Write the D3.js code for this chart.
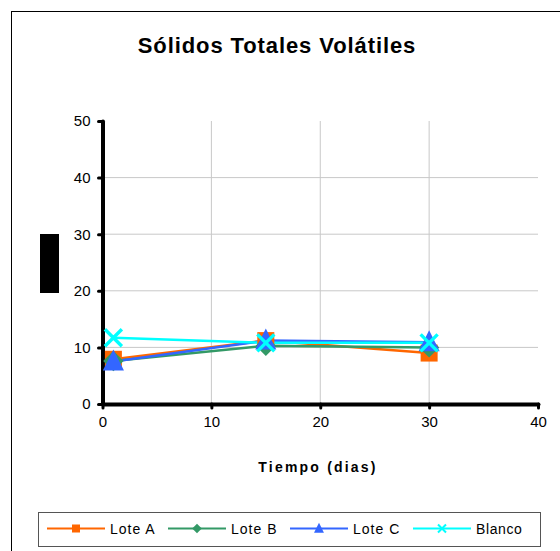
<!DOCTYPE html>
<html>
<head>
<meta charset="utf-8">
<script src="https://cdn.jsdelivr.net/npm/d3@7"></script>
<style>
  body { margin: 0; background: white; }
  svg { display: block; font-family: Arial, "Liberation Sans", sans-serif; }
</style>
</head>
<body>
<svg id="chart"></svg>
<script>
// data
var days = [1, 15, 30]
var loteA = [7.9, 11.2, 9.0]
var loteB = [7.6, 10.3, 10.0]
var loteC = [7.5, 11.2, 10.9]
var blanco = [11.7, 10.8, 10.8]
var seriesNames = ["Lote A", "Lote B", "Lote C", "Blanco"]
var xTicks = [0, 10, 20, 30, 40]
var yTicks = [0, 10, 20, 30, 40, 50]

var width = 560, height = 551

var svg = d3.select("#chart")
    .attr("width", width)
    .attr("height", height)

// outer frame (right / bottom edges fall outside the picture)
svg.append("rect")
    .attr("x", 11.5).attr("y", 11.5)
    .attr("width", 600).attr("height", 600)
    .attr("fill", "white")
    .attr("stroke", "#000")
    .attr("stroke-width", 1)

var xScale = d3.scaleLinear().domain([0, 40]).range([102.5, 538])
var yScale = d3.scaleLinear().domain([0, 50]).range([404, 121])

// title
svg.append("text")
    .attr("x", 277).attr("y", 53)
    .attr("text-anchor", "middle")
    .style("font-size", "22px")
    .style("font-weight", "bold")
    .style("letter-spacing", "0.9px")
    .text("Sólidos Totales Volátiles")

// gridlines
svg.append("g")
    .selectAll("line.gx")
    .data(xTicks.slice(1, -1))
    .join("line")
    .attr("x1", d => xScale(d)).attr("x2", d => xScale(d))
    .attr("y1", yScale(50)).attr("y2", yScale(0))
    .attr("stroke", "#c8c8c8")
    .attr("stroke-width", 1)

svg.append("g")
    .selectAll("line.gy")
    .data(yTicks.slice(1, -1))
    .join("line")
    .attr("x1", xScale(0)).attr("x2", xScale(40))
    .attr("y1", d => yScale(d)).attr("y2", d => yScale(d))
    .attr("stroke", "#c8c8c8")
    .attr("stroke-width", 1)

// axes
var xAxis = svg.append("g")
    .attr("transform", "translate(0," + yScale(0) + ")")
    .call(d3.axisBottom(xScale).tickValues(xTicks).tickSize(4).tickPadding(8).tickSizeOuter(0))
var yAxis = svg.append("g")
    .attr("transform", "translate(" + xScale(0) + ",0)")
    .call(d3.axisLeft(yScale).tickValues(yTicks).tickSize(4).tickPadding(8).tickSizeOuter(0))

;[xAxis, yAxis].forEach(function (ax) {
    ax.select(".domain")
        .attr("stroke", "#000")
        .attr("stroke-width", 4)
        .attr("stroke-linecap", "round")
    ax.selectAll(".tick line")
        .attr("stroke", "#000")
        .attr("stroke-width", 3)
        .attr("stroke-linecap", "round")
    ax.selectAll(".tick text")
        .style("font-family", "Arial, 'Liberation Sans', sans-serif")
        .style("font-size", "15px")
        .attr("fill", "#000")
})

// x axis title
svg.append("text")
    .attr("x", 318).attr("y", 472)
    .attr("text-anchor", "middle")
    .style("font-size", "14px")
    .style("font-weight", "bold")
    .style("letter-spacing", "2.2px")
    .text("Tiempo (dias)")

// y axis title is blacked out in the original
svg.append("rect")
    .attr("x", 40).attr("y", 234)
    .attr("width", 19).attr("height", 59)
    .attr("fill", "#000")

var series = [
    { name: seriesNames[0], values: loteA, color: "#ff6600", symbol: "square" },
    { name: seriesNames[1], values: loteB, color: "#339966", symbol: "diamond" },
    { name: seriesNames[2], values: loteC, color: "#3366ff", symbol: "triangle" },
    { name: seriesNames[3], values: blanco, color: "#00ffff", symbol: "cross" }
]

function drawMarker(g, s, x, y, size) {
    if (s.symbol == "square") {
        g.append("rect")
            .attr("x", x - size / 2).attr("y", y - size / 2)
            .attr("width", size).attr("height", size)
            .attr("fill", s.color)
    } else if (s.symbol == "diamond") {
        var h = size * 0.6
        g.append("path")
            .attr("d", "M" + x + "," + (y - h) + "L" + (x + h) + "," + y + "L" + x + "," + (y + h) + "L" + (x - h) + "," + y + "Z")
            .attr("fill", s.color)
    } else if (s.symbol == "triangle") {
        var t = size * 0.62
        g.append("path")
            .attr("d", "M" + x + "," + (y - t * 1.15) + "L" + (x + t) + "," + (y + t * 0.85) + "L" + (x - t) + "," + (y + t * 0.85) + "Z")
            .attr("fill", s.color)
    } else {
        var c = size / 2
        g.append("path")
            .attr("d", "M" + (x - c) + "," + (y - c) + "L" + (x + c) + "," + (y + c) + "M" + (x + c) + "," + (y - c) + "L" + (x - c) + "," + (y + c))
            .attr("stroke", s.color)
            .attr("stroke-width", Math.max(2, size / 5))
            .attr("fill", "none")
    }
}

var line = d3.line()
    .x((d, i) => xScale(days[i]))
    .y(d => yScale(d))

var plot = svg.append("g")
series.forEach(function (s) {
    plot.append("path")
        .datum(s.values)
        .attr("fill", "none")
        .attr("stroke", s.color)
        .attr("stroke-width", 2.5)
        .attr("d", line)
})
series.forEach(function (s) {
    var mg = plot.append("g")
    s.values.forEach(function (v, i) {
        drawMarker(mg, s, xScale(days[i]), yScale(v), 17)
    })
})

// legend
var legend = svg.append("g")
legend.append("rect")
    .attr("x", 38.5).attr("y", 512.5)
    .attr("width", 502).attr("height", 34)
    .attr("fill", "white")
    .attr("stroke", "#555")
    .attr("stroke-width", 1)

var legendX = [47, 168, 290, 413]
series.forEach(function (s, i) {
    var lg = legend.append("g")
    var x0 = legendX[i]
    lg.append("line")
        .attr("x1", x0).attr("x2", x0 + 58)
        .attr("y1", 528.5).attr("y2", 528.5)
        .attr("stroke", s.color)
        .attr("stroke-width", 2)
    drawMarker(lg, s, x0 + 29, 528.5, 8)
    lg.append("text")
        .attr("x", x0 + 63)
        .attr("y", 534)
        .style("font-size", "14px")
        .style("letter-spacing", i == 3 ? "0.6px" : "1px")
        .text(s.name)
})
</script>
</body>
</html>
